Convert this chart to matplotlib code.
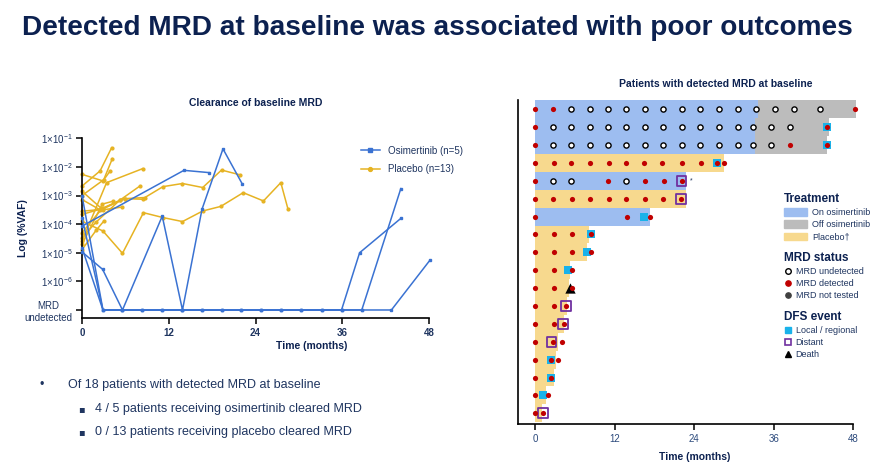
import numpy as np
import matplotlib
matplotlib.use('Agg')
import matplotlib.pyplot as plt
from matplotlib.lines import Line2D
from matplotlib.patches import Patch

plt.rcParams['font.family'] = ['Liberation Sans', 'DejaVu Sans']
plt.rcParams['mathtext.fontset'] = 'custom'
plt.rcParams['mathtext.rm'] = 'Liberation Sans'
plt.rcParams['mathtext.bf'] = 'Liberation Sans:bold'

NAVY = '#0c2150'
TXT = '#1f3560'
BLUE = '#3a72d2'
GOLD = '#e6b323'

# ---- left panel: log10(%VAF) by visit, -7 means MRD undetected ----
osi_t = [
    [0, 2.9, 5.5, 8.3, 11.0, 13.8, 16.6, 19.3, 22.0, 24.8, 27.5, 30.3, 33.2, 35.9, 38.4, 44.1],
    [0, 2.9, 5.5, 8.3, 11.0, 13.8, 16.6, 19.3, 22.0, 24.8, 27.5, 30.3, 33.2, 35.9, 38.7, 44.1],
    [0, 2.9, 5.5, 8.3, 11.0, 13.8, 16.6, 19.3, 22.0, 24.8, 27.5, 30.3, 33.2, 35.9, 38.7, 42.8, 48.1],
    [0, 2.85, 5.6, 11.1, 13.9, 16.6, 19.5, 22.2],
    [0, 14.1, 17.6],
]
osi_v = [
    [-3.0, -7, -7, -7, -7, -7, -7, -7, -7, -7, -7, -7, -7, -7, -5.0, -3.8],
    [-3.78, -7, -7, -7, -7, -7, -7, -7, -7, -7, -7, -7, -7, -7, -7, -2.76],
    [-4.83, -7, -7, -7, -7, -7, -7, -7, -7, -7, -7, -7, -7, -7, -7, -7, -5.27],
    [-4.97, -5.58, -7, -3.72, -7, -3.48, -1.37, -2.61],
    [-4.07, -2.12, -2.2],
]
pbo_t = [
    [0, 2.9, 5.6, 8.5, 11.2, 13.9, 16.7, 19.2, 22.3, 25.1, 27.5, 28.5],
    [0, 2.8, 5.9, 8.7, 11.2, 13.9, 16.7, 19.3, 21.9],
    [0, 2.5, 4.1],
    [0, 3.0, 4.2],
    [0, 2.9, 3.9],
    [0, 3.4, 8.4],
    [0, 2.9, 5.2, 8.0],
    [0, 2.8, 5.9, 8.4],
    [0, 1.9, 5.2],
    [0, 2.9, 5.6],
    [0, 2.8, 4.3],
    [0, 2.5],
    [0, 2.0, 3.0],
]
pbo_v = [
    [-3.9, -4.24, -5.02, -3.6, -3.77, -3.91, -3.54, -3.38, -2.9, -3.19, -2.55, -3.48],
    [-3.55, -3.48, -3.11, -3.07, -2.69, -2.58, -2.72, -2.11, -2.28],
    [-2.67, -2.14, -1.33],
    [-3.0, -2.45, -1.71],
    [-2.26, -2.49, -2.14],
    [-4.6, -2.55, -2.06],
    [-3.66, -3.45, -3.17, -2.67],
    [-4.3, -3.45, -3.11, -3.13],
    [-4.48, -3.94, -3.17],
    [-2.85, -3.5, -3.4],
    [-4.71, -3.3, -3.2],
    [-3.14, -3.5],
    [-4.89, -4.2, -3.9],
]
y_ticks = [-1, -2, -3, -4, -5, -6, -7]
y_labels = [r'$1{\times}10^{-1}$', r'$1{\times}10^{-2}$', r'$1{\times}10^{-3}$',
            r'$1{\times}10^{-4}$', r'$1{\times}10^{-5}$', r'$1{\times}10^{-6}$',
            'MRD\nundetected']
x_ticks = [0, 12, 24, 36, 48]

# ---- right panel: swimmer plot, rows top to bottom ----
rows = list(range(18))
on_osi = [33.6, 33.2, 33.2, 0, 22.7, 0, 17.3, 0, 0, 0, 0, 0, 0, 0, 0, 0, 0, 0]
off_osi = [48.4, 44.4, 44.0, 0, 0, 0, 0, 0, 0, 0, 0, 0, 0, 0, 0, 0, 0, 0]
placebo = [0, 0, 0, 28.5, 0, 22.8, 0, 8.2, 7.9, 5.3, 5.2, 4.8, 4.4, 3.4, 3.1, 2.9, 1.6, 1.0]

und_row = [0, 0, 0, 0, 0, 0, 0, 0, 0, 0, 0, 0, 0, 0,
           1, 1, 1, 1, 1, 1, 1, 1, 1, 1, 1, 1, 1, 1,
           2, 2, 2, 2, 2, 2, 2, 2, 2, 2, 2, 2, 2,
           4, 4, 4]
und_t = [5.5, 8.3, 11.0, 13.8, 16.6, 19.3, 22.1, 24.9, 27.8, 30.6, 33.4, 36.2, 39.0, 43.0,
         2.7, 5.5, 8.3, 11.0, 13.8, 16.6, 19.3, 22.1, 24.9, 27.8, 30.6, 32.9, 35.6, 38.5,
         2.7, 5.5, 8.3, 11.0, 13.8, 16.6, 19.3, 22.1, 24.9, 27.8, 30.6, 32.9, 35.6,
         2.7, 5.5, 13.8]
det_row = [0, 0, 0, 1, 1, 2, 2, 2,
           3, 3, 3, 3, 3, 3, 3, 3, 3, 3, 3, 3,
           4, 4, 4, 4, 4,
           5, 5, 5, 5, 5, 5, 5, 5, 5,
           6, 6, 6,
           7, 7, 7, 7, 8, 8, 8, 8, 9, 9, 9, 10, 10, 10, 11, 11, 11, 12, 12, 12,
           13, 13, 13, 14, 14, 14, 15, 15, 16, 16, 17, 17]
det_t = [0, 2.7, 48.2, 0, 44.1, 0, 38.5, 44.1,
         0, 2.9, 5.5, 8.3, 11.1, 13.7, 16.5, 19.2, 22.1, 25.0, 27.4, 28.5,
         0, 11.0, 16.6, 19.4, 22.1,
         0, 2.7, 5.6, 8.3, 11.1, 13.8, 16.6, 19.3, 22.0,
         0, 13.9, 17.4,
         0, 2.8, 5.6, 8.5, 0, 2.8, 5.6, 8.5, 0, 2.8, 5.6, 0, 2.8, 5.6, 0, 2.8, 4.7, 0, 2.8, 4.4,
         0, 2.7, 4.1, 0, 2.4, 3.4, 0, 2.4, 0, 2.0, 0, 1.25]
loc_row = [1, 2, 3, 6, 7, 8, 9, 14, 15, 16]
loc_t = [44.1, 44.1, 27.4, 16.4, 8.5, 7.8, 5.0, 2.4, 2.4, 1.25]
dist_row = [4, 5, 11, 12, 13, 17]
dist_t = [22.1, 22.0, 4.7, 4.2, 2.5, 1.25]
death_row = [10]
death_t = [5.3]

fig = plt.figure(figsize=(8.88, 4.63), dpi=100)

fig.text(22 / 888, 1 - 28 / 463, 'Detected MRD at baseline was associated with poor outcomes',
         fontsize=20.2, fontweight='bold', color=NAVY, va='center', ha='left')

# ----------------- left chart -----------------
axL = fig.add_axes([82 / 888, 1 - 318 / 463, (429 - 82) / 888, (318 - 138) / 463])
for t, v in zip(pbo_t, pbo_v):
    axL.plot(t, v, '-o', color=GOLD, lw=1.1, ms=2.0, clip_on=False, zorder=2)
for t, v in zip(osi_t, osi_v):
    axL.plot(t, v, '-s', color=BLUE, lw=1.1, ms=2.0, clip_on=False, zorder=3)
axL.set_xlim(0, 48)
axL.set_ylim(-7.28, -0.99)
axL.set_xticks(x_ticks)
axL.set_xticklabels([str(x) for x in x_ticks], fontweight='bold')
axL.set_yticks(y_ticks)
axL.set_yticklabels(y_labels)
for lab in axL.get_yticklabels():
    lab.set_multialignment('center')
axL.tick_params(colors='black', labelcolor=TXT, labelsize=7, width=1.1, length=4, pad=3)
for s in ['top', 'right']:
    axL.spines[s].set_visible(False)
for s in ['left', 'bottom']:
    axL.spines[s].set_linewidth(1.2)
axL.set_xlabel('Time (months)', fontsize=7.5, fontweight='bold', color=NAVY)
axL.xaxis.set_label_coords((312 - 82) / 347, -0.13)
axL.set_ylabel('Log (%VAF)', fontsize=7.5, fontweight='bold', color=NAVY)
axL.yaxis.set_label_coords(-0.155, 0.5)
axL.set_title('Clearance of baseline MRD', fontsize=7.5, fontweight='bold', color=NAVY,
              x=(256 - 82) / 347, y=1.13)
handlesL = [Line2D([], [], color=BLUE, marker='s', ms=2.8, lw=1.1),
            Line2D([], [], color=GOLD, marker='o', ms=2.8, lw=1.1)]
axL.legend(handlesL, ['Osimertinib (n=5)', 'Placebo (n=13)'], loc='upper left',
           bbox_to_anchor=(352 / 888, 1 - 137 / 463), bbox_transform=fig.transFigure,
           frameon=False, fontsize=7, labelcolor=TXT, handlelength=2.0, labelspacing=0.9)

# bullet text
fig.text(40 / 888, 1 - 385 / 463, '\u2022', fontsize=9, color=TXT, va='center')
fig.text(68 / 888, 1 - 385 / 463, 'Of 18 patients with detected MRD at baseline',
         fontsize=9, color=TXT, va='center')
fig.text(78 / 888, 1 - 409 / 463, '\u25aa', fontsize=7, color=TXT, va='center',
         family=['DejaVu Sans'])
fig.text(95 / 888, 1 - 409 / 463, '4 / 5 patients receiving osimertinib cleared MRD',
         fontsize=9, color=TXT, va='center')
fig.text(78 / 888, 1 - 432 / 463, '\u25aa', fontsize=7, color=TXT, va='center',
         family=['DejaVu Sans'])
fig.text(95 / 888, 1 - 432 / 463, '0 / 13 patients receiving placebo cleared MRD',
         fontsize=9, color=TXT, va='center')

# ----------------- right chart -----------------
C_ON = '#9dbdf0'
C_OFF = '#bcbcbc'
C_PBO = '#f7d98e'
RED = '#c00000'
CYAN = '#19b2ea'
PURP = '#7030a0'

axR = fig.add_axes([518 / 888, 1 - 424 / 463, (853.3 - 518) / 888, (424 - 100) / 463])
on_osi = np.array(on_osi)
off_osi = np.array(off_osi)
placebo = np.array(placebo)
axR.barh(rows, on_osi, height=1.0, color=C_ON, lw=0, clip_on=False, zorder=1)
axR.barh(rows, np.where(off_osi > 0, off_osi - on_osi, 0), left=on_osi, height=1.0,
         color=C_OFF, lw=0, clip_on=False, zorder=1)
axR.barh(rows, placebo, height=1.0, color=C_PBO, lw=0, clip_on=False, zorder=1)

axR.scatter(loc_t, loc_row, marker='s', s=30, color=CYAN, lw=0, zorder=3, clip_on=False)
axR.scatter(dist_t, dist_row, marker='s', s=48, facecolor='none', edgecolor=PURP, lw=1.3,
            zorder=3, clip_on=False)
axR.scatter(death_t, death_row, marker='^', s=55, color='black', lw=0, zorder=3, clip_on=False)
axR.scatter(und_t, und_row, marker='o', s=14, facecolor='white', edgecolor='black', lw=1.0,
            zorder=4, clip_on=False)
axR.scatter(det_t, det_row, marker='o', s=14, color=RED, lw=0, zorder=5, clip_on=False)
axR.text(23.4, 4, '*', fontsize=5, color=TXT, va='center')

axR.set_xlim(-2.56, 48)
axR.set_ylim(17.6, -0.52)
axR.set_xticks(x_ticks)
axR.set_yticks([])
axR.tick_params(axis='x', colors='black', labelcolor='#2c4a7c', labelsize=7, width=1.1,
                length=4, pad=3)
for s in ['top', 'right']:
    axR.spines[s].set_visible(False)
for s in ['left', 'bottom']:
    axR.spines[s].set_linewidth(1.2)
axR.set_xlabel('Time (months)', fontsize=7.5, fontweight='bold', color=NAVY, labelpad=3)
axR.xaxis.set_label_coords((695 - 518) / 335.3, -0.085)
axR.set_title('Patients with detected MRD at baseline', fontsize=7.5, fontweight='bold',
              color=NAVY, x=(716 - 518) / 335.3, y=1.015)

leg_kw = dict(loc='upper left', bbox_transform=fig.transFigure, frameon=False, fontsize=6.5,
              labelcolor=TXT, alignment='left', borderaxespad=0, borderpad=0,
              title_fontproperties={'weight': 'bold', 'size': 8.5}, labelspacing=0.35,
              handletextpad=0.5)
h1 = [Patch(color=C_ON), Patch(color=C_OFF), Patch(color=C_PBO)]
lg1 = axR.legend(h1, ['On osimertinib', 'Off osimertinib', 'Placebo\u2020'],
                 title='Treatment', bbox_to_anchor=(784 / 888, 1 - 193 / 463),
                 handlelength=2.6, handleheight=0.9, **leg_kw)
lg1.get_title().set_color(NAVY)
axR.add_artist(lg1)
h2 = [Line2D([], [], ls='', marker='o', ms=4, mfc='white', mec='black', mew=1.0),
      Line2D([], [], ls='', marker='o', ms=3.8, color=RED),
      Line2D([], [], ls='', marker='o', ms=3.8, color='#404040')]
lg2 = axR.legend(h2, ['MRD undetected', 'MRD detected', 'MRD not tested'],
                 title='MRD status', bbox_to_anchor=(784 / 888, 1 - 252 / 463),
                 handlelength=0.8, **leg_kw)
lg2.get_title().set_color(NAVY)
axR.add_artist(lg2)
h3 = [Line2D([], [], ls='', marker='s', ms=4, color=CYAN),
      Line2D([], [], ls='', marker='s', ms=4.5, mfc='none', mec=PURP, mew=1.2),
      Line2D([], [], ls='', marker='^', ms=4.5, color='black')]
lg3 = axR.legend(h3, ['Local / regional', 'Distant', 'Death'],
                 title='DFS event', bbox_to_anchor=(784 / 888, 1 - 311 / 463),
                 handlelength=0.8, **leg_kw)
lg3.get_title().set_color(NAVY)

fig.savefig('out.png', dpi=100)
